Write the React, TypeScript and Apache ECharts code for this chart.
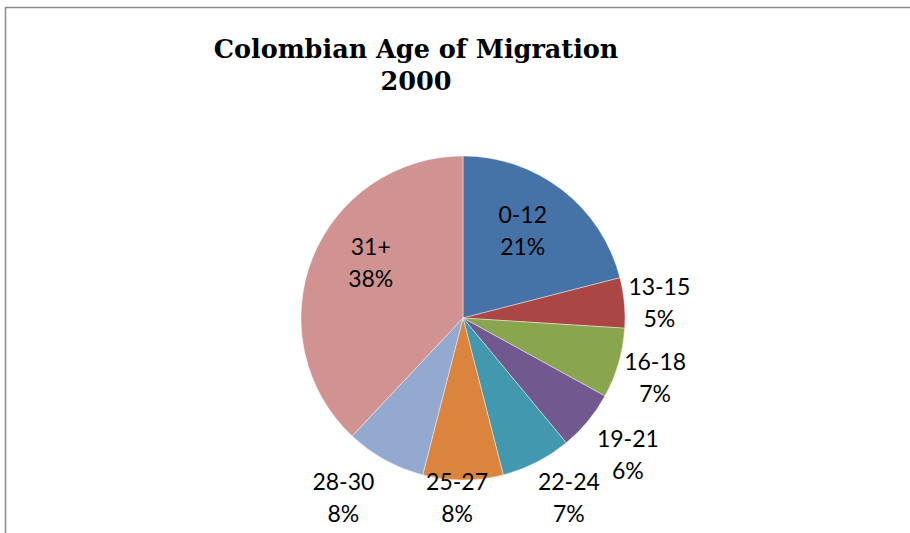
import React, { useEffect, useRef } from "react";
import * as echarts from "echarts";

const titleLines = ["Colombian Age of Migration", "2000"];
const categories = ["0-12", "13-15", "16-18", "19-21", "22-24", "25-27", "28-30", "31+"];
const values = [21, 5, 7, 6, 7, 8, 8, 38];
const colors = ["#4572A7", "#AA4643", "#89A54E", "#71588F", "#4198AF", "#DB843D", "#93A9CF", "#D19392"];

// label placement (layout only): distance from pie centre and angular nudge in degrees
const labelRadius = [106, 197, 201, 214, 208, 179, 215, 108];
const labelNudge = [-3.5, 0.7, 0.9, 0, -3.6, 1.9, 5, 9.7];

const CX = 463;
const CY = 318;
const R = 162;

export default function App() {
  const ref = useRef<HTMLDivElement>(null);
  useEffect(() => {
    if (!ref.current) return;
    const chart = echarts.init(ref.current, null, { renderer: "svg" });
    const total = values.reduce((a, b) => a + b, 0);
    const mids: number[] = [];
    let acc = 0;
    values.forEach((v) => {
      mids.push(((acc + v / 2) / total) * 360);
      acc += v;
    });
    chart.setOption({
      animation: false,
      backgroundColor: "#ffffff",
      title: {
        text: titleLines.join("\n"),
        left: 411,
        top: 28,
        textAlign: "center",
        textStyle: {
          fontFamily: "DejaVu Serif",
          fontWeight: "bold",
          fontSize: 25.5,
          lineHeight: 32,
          color: "#000",
        },
      },
      graphic: [
        {
          type: "rect",
          shape: { x: 5.5, y: 7.5, width: 1000, height: 1000 },
          style: { fill: "none", stroke: "#8a8a8a", lineWidth: 1.5 },
          silent: true,
        },
      ],
      series: [
        {
          type: "pie",
          center: [CX, CY],
          radius: R,
          startAngle: 90,
          clockwise: true,
          avoidLabelOverlap: false,
          data: categories.map((c, i) => ({
            name: c,
            value: values[i],
            itemStyle: { color: colors[i] },
          })),
          itemStyle: { borderColor: "rgba(255,255,255,0.6)", borderWidth: 0.7 },
          label: {
            show: true,
            position: "inside",
            formatter: "{b}\n{d}%",
            fontFamily: "Lato",
            fontSize: 23,
            lineHeight: 32,
            color: "#000",
          },
          labelLine: { show: false },
          emphasis: { disabled: true },
          labelLayout: (p: any) => {
            const i = p.dataIndex;
            const a = ((mids[i] + labelNudge[i]) * Math.PI) / 180;
            const r = labelRadius[i];
            return {
              x: CX + r * Math.sin(a),
              y: CY - r * Math.cos(a),
              align: "center",
              verticalAlign: "middle",
            };
          },
        },
      ],
    });
    return () => chart.dispose();
  }, []);
  return (
    <div
      ref={ref}
      style={{ position: "fixed", left: 0, top: 0, width: 910, height: 533 }}
    />
  );
}
